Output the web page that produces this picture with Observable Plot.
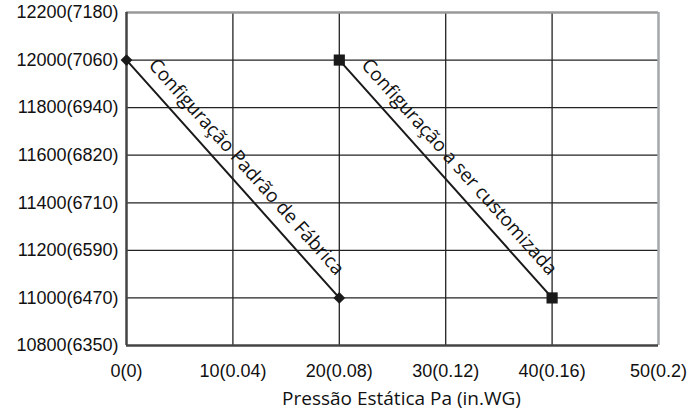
<!DOCTYPE html>
<html>
<head>
<meta charset="utf-8">
<script src="https://cdn.jsdelivr.net/npm/d3@7"></script>
<script src="https://cdn.jsdelivr.net/npm/@observablehq/plot@0.6"></script>
<style>
  html, body { margin: 0; padding: 0; background: #fff; }
  #chart svg { display: block; }
</style>
</head>
<body>
<div id="chart"></div>
<script>
const xTicks = [0, 10, 20, 30, 40, 50];
const xTickLabels = ["0(0)", "10(0.04)", "20(0.08)", "30(0.12)", "40(0.16)", "50(0.2)"];
const yTicks = [10800, 11000, 11200, 11400, 11600, 11800, 12000, 12200];
const yTickLabels = ["10800(6350)", "11000(6470)", "11200(6590)", "11400(6710)", "11600(6820)", "11800(6940)", "12000(7060)", "12200(7180)"];

const factoryX = [0, 20];
const factoryY = [12000, 11000];
const customX = [20, 40];
const customY = [12000, 11000];

const seriesNames = ["Configuração Padrão de Fábrica", "Configuração a ser customizada"];
const xTitle = "Pressão Estática Pa (in.WG)";

const factory = factoryX.map((x, i) => ({x, y: factoryY[i]}));
const custom = customX.map((x, i) => ({x, y: customY[i]}));
const labels = [
  {x: d3.mean(factoryX), y: d3.mean(factoryY), text: seriesNames[0]},
  {x: d3.mean(customX), y: d3.mean(customY), text: seriesNames[1]}
];

const W = 698, H = 418, mL = 126, mR = 40, mT = 12, mB = 73;
const pxPerX = (W - mL - mR) / 50;
const pxPerY = (H - mT - mB) / 1400;
const ang = Math.atan2((factoryY[0] - factoryY[1]) * pxPerY, (factoryX[1] - factoryX[0]) * pxPerX);
const angDeg = ang * 180 / Math.PI;
const off = 18;
const ldx = Math.sin(ang) * off, ldy = -Math.cos(ang) * off;

const fmtX = d => xTickLabels[xTicks.indexOf(d)];
const fmtY = d => yTickLabels[yTicks.indexOf(d)];
const tickFont = "'Liberation Sans', Arial, sans-serif";
const labelFont = "'Open Sans', sans-serif";

const chart = Plot.plot({
  width: W, height: H,
  marginLeft: mL, marginRight: mR, marginTop: mT, marginBottom: mB,
  style: {fontFamily: tickFont, fontSize: "18px", color: "#111", background: "#fff"},
  x: {domain: [0, 50]},
  y: {domain: [10800, 12200]},
  marks: [
    Plot.ruleX([10, 20, 30, 40], {stroke: "#222", strokeWidth: 1.3}),
    Plot.ruleY([11000, 11200, 11400, 11600, 11800, 12000], {stroke: "#222", strokeWidth: 1.3}),
    Plot.ruleY([12200], {stroke: "#999", strokeWidth: 2.5}),
    Plot.ruleX([50], {stroke: "#a5a8ab", strokeWidth: 2.5}),
    Plot.ruleX([0], {stroke: "#444", strokeWidth: 2.5}),
    Plot.ruleY([10800], {stroke: "#444", strokeWidth: 2.5}),
    Plot.axisX({ticks: xTicks, tickFormat: fmtX, tickSize: 0, tickPadding: 19, label: null, fontSize: 18, fontFamily: tickFont, fill: "#111"}),
    Plot.axisY({ticks: yTicks, tickFormat: fmtY, tickSize: 0, tickPadding: 8, label: null, fontSize: 18, fontFamily: tickFont, fill: "#111"}),
    Plot.line(factory, {x: "x", y: "y", stroke: "#1a1a1a", strokeWidth: 2}),
    Plot.line(custom, {x: "x", y: "y", stroke: "#1a1a1a", strokeWidth: 2}),
    Plot.dot(factory, {x: "x", y: "y", symbol: "diamond2", r: 5.3, fill: "#1a1a1a", stroke: "none"}),
    Plot.dot(custom, {x: "x", y: "y", symbol: "square", r: 6.3, fill: "#1a1a1a", stroke: "none"}),
    Plot.text(labels, {x: "x", y: "y", text: "text", rotate: angDeg, dx: ldx, dy: ldy,
      fontSize: 19, fontFamily: labelFont, fill: "#111", textAnchor: "middle"}),
    Plot.text([xTitle], {frameAnchor: "bottom", dy: 59, dx: 9, fontSize: 19,
      fontFamily: labelFont, fill: "#111"})
  ]
});
document.getElementById("chart").appendChild(chart);
</script>
</body>
</html>
